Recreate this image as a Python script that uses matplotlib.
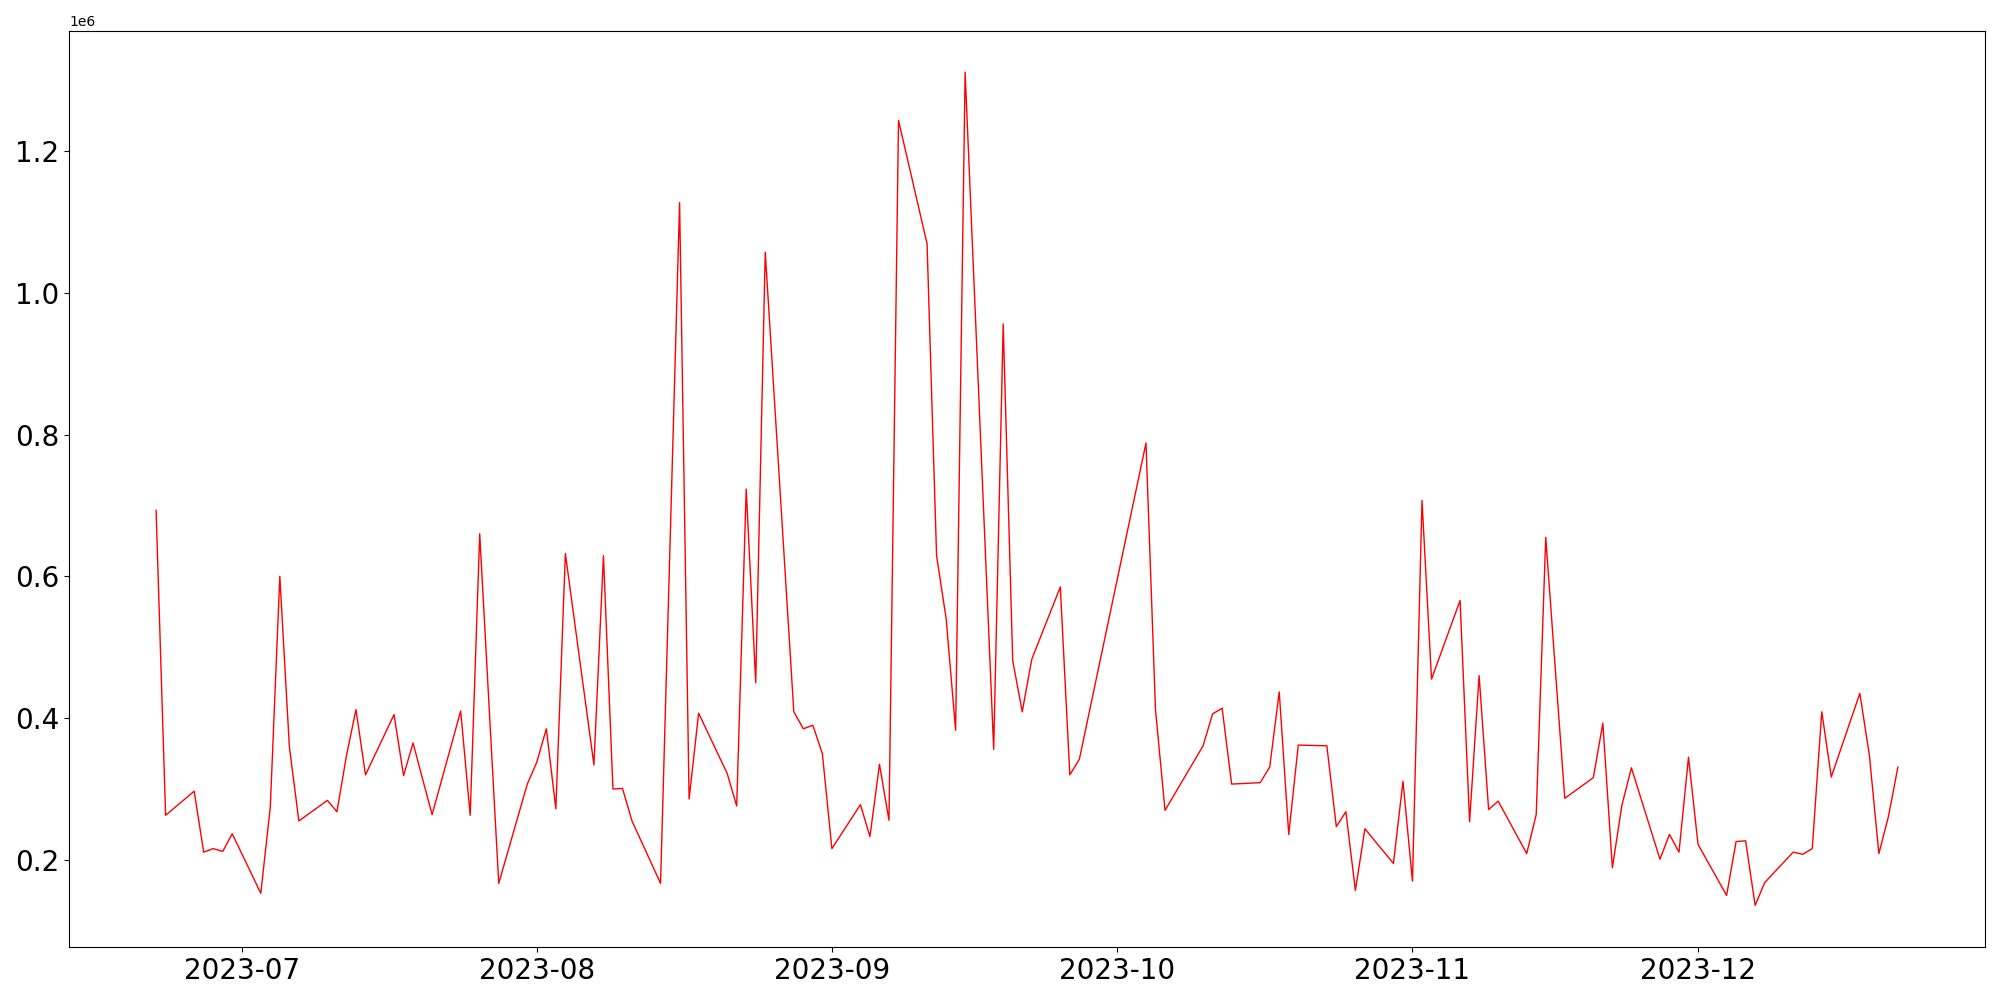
import matplotlib
matplotlib.use("Agg")
import matplotlib.pyplot as plt
import pandas as pd

# trading days (KRX calendar, Jun 22 - Dec 22 2023)
dates = [
    "2023-06-22", "2023-06-23", "2023-06-26", "2023-06-27", "2023-06-28", "2023-06-29", "2023-06-30",
    "2023-07-03", "2023-07-04", "2023-07-05", "2023-07-06", "2023-07-07",
    "2023-07-10", "2023-07-11", "2023-07-12", "2023-07-13", "2023-07-14",
    "2023-07-17", "2023-07-18", "2023-07-19", "2023-07-20", "2023-07-21",
    "2023-07-24", "2023-07-25", "2023-07-26", "2023-07-27", "2023-07-28", "2023-07-31",
    "2023-08-01", "2023-08-02", "2023-08-03", "2023-08-04",
    "2023-08-07", "2023-08-08", "2023-08-09", "2023-08-10", "2023-08-11",
    "2023-08-14", "2023-08-16", "2023-08-17", "2023-08-18",
    "2023-08-21", "2023-08-22", "2023-08-23", "2023-08-24", "2023-08-25",
    "2023-08-28", "2023-08-29", "2023-08-30", "2023-08-31",
    "2023-09-01", "2023-09-04", "2023-09-05", "2023-09-06", "2023-09-07", "2023-09-08",
    "2023-09-11", "2023-09-12", "2023-09-13", "2023-09-14", "2023-09-15",
    "2023-09-18", "2023-09-19", "2023-09-20", "2023-09-21", "2023-09-22",
    "2023-09-25", "2023-09-26", "2023-09-27",
    "2023-10-04", "2023-10-05", "2023-10-06",
    "2023-10-10", "2023-10-11", "2023-10-12", "2023-10-13",
    "2023-10-16", "2023-10-17", "2023-10-18", "2023-10-19", "2023-10-20",
    "2023-10-23", "2023-10-24", "2023-10-25", "2023-10-26", "2023-10-27",
    "2023-10-30", "2023-10-31",
    "2023-11-01", "2023-11-02", "2023-11-03",
    "2023-11-06", "2023-11-07", "2023-11-08", "2023-11-09", "2023-11-10",
    "2023-11-13", "2023-11-14", "2023-11-15", "2023-11-16", "2023-11-17",
    "2023-11-20", "2023-11-21", "2023-11-22", "2023-11-23", "2023-11-24",
    "2023-11-27", "2023-11-28", "2023-11-29", "2023-11-30",
    "2023-12-01", "2023-12-04", "2023-12-05", "2023-12-06", "2023-12-07", "2023-12-08",
    "2023-12-11", "2023-12-12", "2023-12-13", "2023-12-14", "2023-12-15",
    "2023-12-18", "2023-12-19", "2023-12-20", "2023-12-21", "2023-12-22",
]

volume = [
    693000, 263000, 297000, 211000, 216000, 212000, 237000,
    153000, 275000, 600000, 360000, 255000,
    284000, 268000, 347000, 412000, 320000,
    405000, 319000, 365000, 314000, 264000,
    410000, 263000, 660000, 413000, 167000, 307000,
    338000, 385000, 272000, 632000,
    334000, 629000, 300000, 301000, 255000,
    167000, 1127000, 286000, 407000,
    322000, 276000, 723000, 450000, 1057000,
    409000, 385000, 390000, 350000,
    216000, 278000, 233000, 335000, 256000, 1243000,
    1069000, 629000, 541000, 383000, 1311000,
    356000, 956000, 481000, 409000, 483000,
    585000, 320000, 342000,
    788000, 412000, 270000,
    361000, 406000, 414000, 307000,
    309000, 331000, 437000, 236000, 362000,
    361000, 247000, 268000, 157000, 244000,
    195000, 311000,
    170000, 707000, 455000,
    566000, 254000, 460000, 271000, 283000,
    209000, 264000, 655000, 470000, 287000,
    316000, 393000, 189000, 277000, 330000,
    201000, 236000, 211000, 345000,
    222000, 150000, 226000, 227000, 136000, 168000,
    211000, 208000, 216000, 409000, 317000,
    435000, 348000, 209000, 261000, 331000,
]

x = pd.to_datetime(dates)

fig, ax = plt.subplots(figsize=(20, 10), dpi=100)
ax.plot(x, volume, color="red", linewidth=1.0)
plt.xticks(fontsize=20)
plt.yticks(fontsize=20)
fig.subplots_adjust(left=0.0345, right=0.9925, bottom=0.053, top=0.9695)
fig.savefig("out.png")
